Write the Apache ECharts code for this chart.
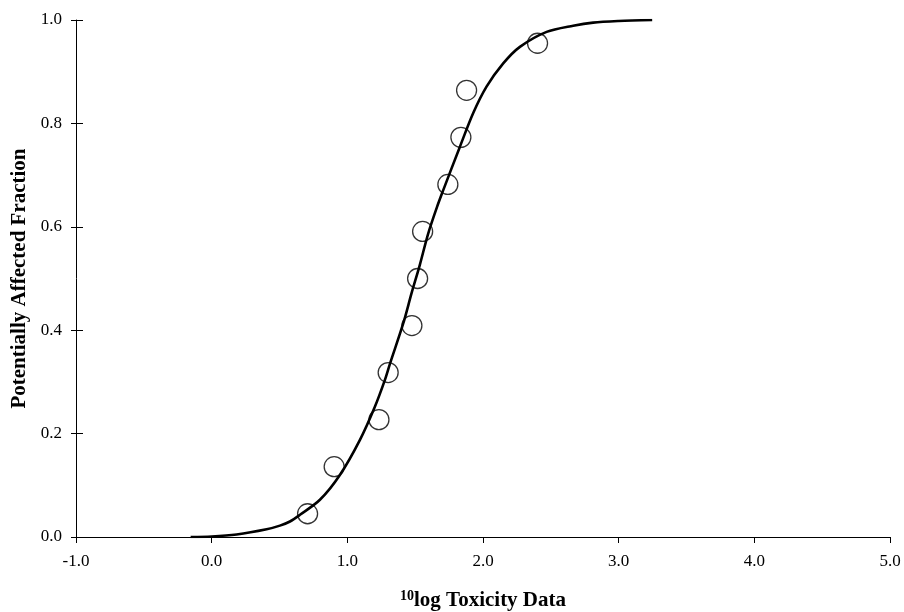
<!DOCTYPE html>
<html>
<head>
<meta charset="utf-8">
<script src="https://cdn.jsdelivr.net/npm/echarts@6/dist/echarts.min.js"></script>
<style>
  html, body { margin: 0; padding: 0; background: #fff; }
  #chart { width: 904px; height: 612px; }
</style>
</head>
<body>
<div id="chart"></div>
<script>
// measured toxicity data (10log) and their plotting positions
const obsX = [0.707, 0.903, 1.233, 1.301, 1.476, 1.518, 1.555, 1.741, 1.837, 1.879, 2.402];
const obsY = [0.045, 0.136, 0.227, 0.318, 0.409, 0.500, 0.591, 0.682, 0.773, 0.864, 0.955];

// fitted curve
const curveX = [-0.155, 0.0, 0.184, 0.405, 0.503, 0.577, 0.651, 0.798, 0.945, 1.093, 1.203, 1.277,
  1.314, 1.412, 1.474, 1.535, 1.596, 1.670, 1.707, 1.830, 1.928, 2.026, 2.149, 2.272, 2.469,
  2.665, 2.812, 3.000, 3.247];
const curveY = [0.000, 0.001, 0.005, 0.015, 0.022, 0.030, 0.043, 0.072, 0.120, 0.188, 0.252, 0.304,
  0.335, 0.413, 0.472, 0.527, 0.587, 0.645, 0.671, 0.755, 0.820, 0.871, 0.916, 0.948, 0.977,
  0.989, 0.995, 0.998, 1.000];

const font = '"Liberation Serif", "DejaVu Serif", serif';

const myChart = echarts.init(document.getElementById('chart'), null, { renderer: 'canvas' });

const option = {
  backgroundColor: '#ffffff',
  animation: false,
  grid: { left: 76, right: 14, top: 20, bottom: 75, containLabel: false, outerBoundsMode: 'none' },
  xAxis: {
    type: 'value',
    min: -1, max: 5, interval: 1,
    name: '{sup|10}{t|log Toxicity Data}',
    nameLocation: 'middle',
    nameGap: 52,
    nameTextStyle: {
      rich: {
        sup: { fontFamily: font, fontWeight: 'bold', fontSize: 14, color: '#000', verticalAlign: 'top', lineHeight: 24 },
        t: { fontFamily: font, fontWeight: 'bold', fontSize: 21, color: '#000', lineHeight: 24 }
      }
    },
    splitLine: { show: false },
    axisLine: { onZero: false, lineStyle: { color: '#000', width: 1 } },
    axisTick: { length: 6, lineStyle: { color: '#000' } },
    axisLabel: {
      margin: 16,
      color: '#000', fontFamily: font, fontSize: 17,
      formatter: v => v.toFixed(1)
    }
  },
  yAxis: [
    {
      type: 'value',
      min: 0, max: 1, interval: 0.2,
      name: 'Potentially Affected Fraction',
      nameLocation: 'middle',
      nameGap: 45,
      nameTextStyle: { fontFamily: font, fontWeight: 'bold', fontSize: 21, color: '#000' },
      splitLine: { show: false },
      axisLine: { onZero: false, lineStyle: { color: '#000', width: 1 } },
      axisTick: { length: 5, lineStyle: { color: '#000' } },
      axisLabel: {
        margin: 14,
        color: '#000', fontFamily: font, fontSize: 17,
        formatter: v => v.toFixed(1)
      }
    },
    {
      // inner half of the crossing ticks
      type: 'value',
      position: 'left',
      min: 0, max: 1, interval: 0.2,
      splitLine: { show: false },
      axisLine: { show: false, onZero: false },
      axisTick: { inside: true, length: 7, lineStyle: { color: '#000' } },
      axisLabel: { show: false }
    }
  ],
  series: [
    {
      name: 'fit',
      type: 'line',
      data: curveX.map((x, i) => [x, curveY[i]]),
      smooth: 0.3,
      showSymbol: false,
      lineStyle: { color: '#000', width: 2.6 },
      z: 2
    },
    {
      name: 'data',
      type: 'scatter',
      data: obsX.map((x, i) => [x, obsY[i]]),
      symbol: 'circle',
      symbolSize: 20,
      itemStyle: { color: 'rgba(0,0,0,0)', borderColor: '#000', borderWidth: 1.3 },
      z: 3
    }
  ]
};

myChart.setOption(option);
</script>
</body>
</html>
